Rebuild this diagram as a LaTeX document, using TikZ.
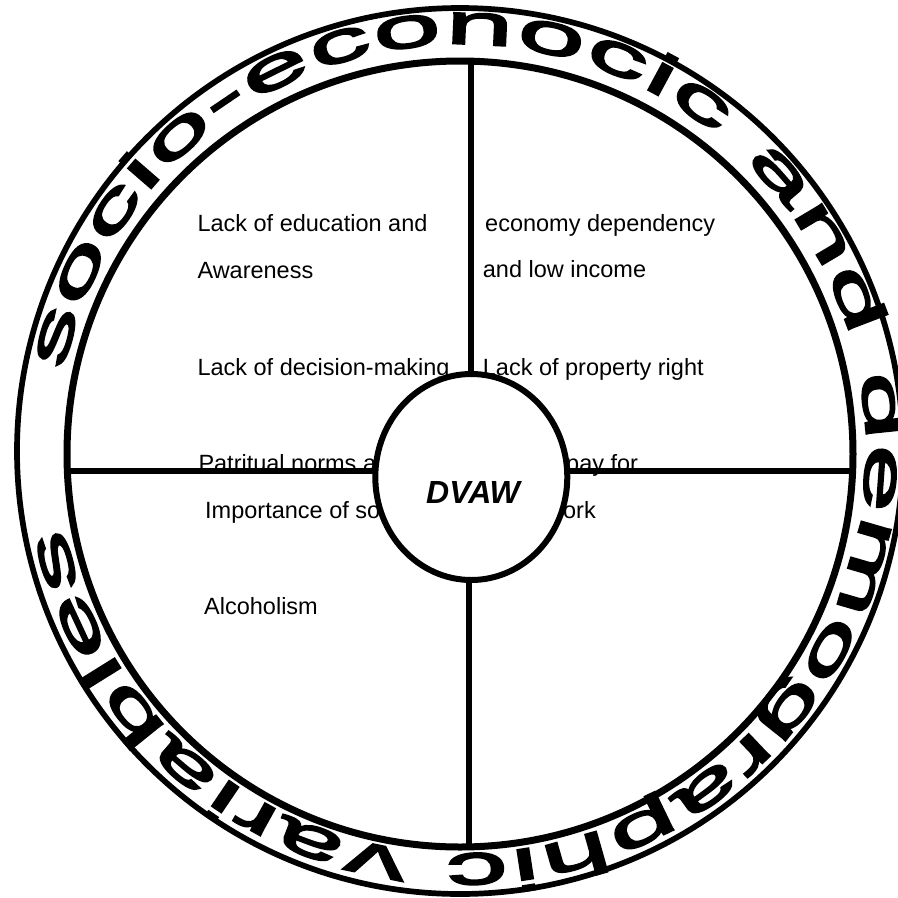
\documentclass[tikz,border=0pt]{standalone}
\usepackage{fontspec}
\setmainfont{Liberation Sans}
\newfontfamily\ringfont[FakeStretch=2.15,FakeBold=4]{Liberation Sans}
\usetikzlibrary{decorations.text,shapes.geometric,backgrounds}
\begin{document}
\begin{tikzpicture}[x=1pt,y=1pt,
  lbl/.style={anchor=base west, inner sep=0pt, font=\fontsize{23.5}{28}\selectfont},
  spoke/.style={line width=6pt},
  ringline/.style={circle, draw, inner sep=0pt, outer sep=0pt},
  hub/.style={ellipse, draw, fill=white, line width=6pt, inner sep=0pt, outer sep=0pt, minimum width=192pt, minimum height=206pt}]
\path[use as bounding box] (0,0) rectangle (898,-898);
\clip (0,0) rectangle (898,-898);
% rings
\node[ringline, line width=5.7pt, minimum size=886pt] (outer) at (460,-451) {};
\node[ringline, line width=7pt, minimum size=786pt] (inner) at (460,-454) {};
% hub
\node[hub] (dvaw) at (471.3,-477) {};
\node[inner sep=0pt, font=\fontsize{32}{36}\selectfont\bfseries\itshape] (dvawlbl) at (473,-492.5) {DVAW};
\coordinate (nEnd) at (471,-63);
\coordinate (sEnd) at (468.5,-846);
\coordinate (wEnd) at (67,-471);
\coordinate (eEnd) at (853,-471);
\begin{scope}[on background layer]
  \draw[spoke] (nEnd) -- (nEnd |- dvaw.center);
  \draw[spoke] (sEnd) -- (sEnd |- dvaw.center);
  \draw[spoke] (wEnd) -- (wEnd -| dvaw.center);
  \draw[spoke] (eEnd) -- (eEnd -| dvaw.center);
  \node[lbl] (t1) at (197.3,-231) {Lack of education and};
  \node[lbl] (t2) at (197.3,-278) {Awareness};
  \node[lbl] (t3) at (197.3,-375.5) {Lack of decision-making};
  \node[lbl] (t4) at (198.3,-471) {Patritual norms and};
  \node[lbl] (t5) at (205,-518) {Importance of son};
  \node[lbl] (t6) at (204,-614) {Alcoholism};
  \node[lbl] (r1) at (485,-231) {economy dependency};
  \node[lbl] (r2) at (482.7,-277.5) {and low income};
  \node[lbl] (r3) at (482.7,-375.5) {Lack of property right};
  \node[lbl] (r4) at (566,-471) {pay for};
  \node[lbl] (r5) at (546,-518) {work};
\end{scope}
% ring text
\path[decorate, decoration={text along path,
   text={|\ringfont\fontsize{57}{60}\selectfont|socio-econocic and demographic variables},
   text align={fit to path}}]
   (461,-449) ++(168.8:405) arc[start angle=168.8, end angle=-168.8, radius=405];
\end{tikzpicture}
\end{document}
